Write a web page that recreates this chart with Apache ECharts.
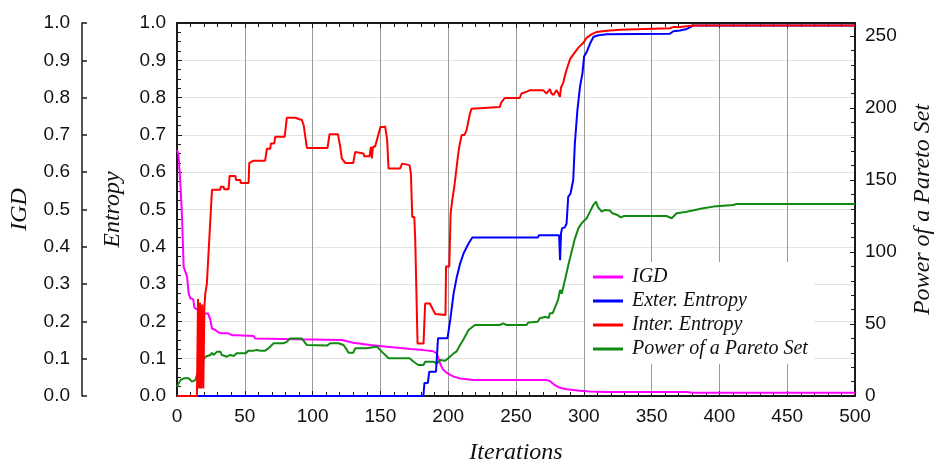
<!DOCTYPE html>
<html>
<head>
<meta charset="utf-8">
<script src="https://cdn.jsdelivr.net/npm/echarts@6/dist/echarts.min.js"></script>
<style>html,body{margin:0;padding:0;background:#fff}#c{width:937px;height:463px}</style>
</head>
<body>
<div id="c"></div>
<script>
// ---- data ----
const xTicks = [0, 50, 100, 150, 200, 250, 300, 350, 400, 450, 500];
const leftTicks = [0, 0.1, 0.2, 0.3, 0.4, 0.5, 0.6, 0.7, 0.8, 0.9, 1.0];
const rightTicks = [0, 50, 100, 150, 200, 250];

const igdX = [0, 1, 2.5, 3.7, 4.9, 6, 7.4, 8.6, 9.8, 12, 12.8, 14.7, 17.2, 18.4, 23, 24.6, 25.8, 28.3, 30.7, 33.2, 38, 40.5, 44.2, 45.5, 56.5, 57.7, 59, 88.5, 89.7, 121.6, 123, 130, 142.5, 154.8, 167, 172, 181.8, 189, 191.6, 192.9, 194.5, 196, 199, 204, 208.8, 213.8, 218, 272.5, 275, 278.7, 282.3, 287.3, 297, 304.5, 316.8, 375.8, 380, 500];
const igdY = [0.659, 0.65, 0.57, 0.48, 0.346, 0.342, 0.32, 0.275, 0.262, 0.259, 0.2375, 0.232, 0.232, 0.221, 0.221, 0.204, 0.181, 0.177, 0.17, 0.168, 0.168, 0.163, 0.163, 0.161, 0.161, 0.154, 0.152, 0.152, 0.15, 0.15, 0.146, 0.143, 0.137, 0.132, 0.128, 0.126, 0.123, 0.12, 0.114, 0.10, 0.083, 0.072, 0.062, 0.052, 0.047, 0.045, 0.043, 0.043, 0.04, 0.029, 0.022, 0.018, 0.014, 0.012, 0.011, 0.011, 0.009, 0.009];

const exterX = [0, 181.7, 182.5, 185, 186, 191, 192.5, 199.5, 201.5, 204, 206.4, 208.8, 211.3, 215, 217.8, 266.2, 266.8, 281.8, 282.5, 283.2, 284, 286, 287.3, 288.5, 290.2, 292.2, 293.4, 295.3, 297.2, 299, 300.2, 302.2, 304.7, 307.2, 310.9, 317, 363.5, 366, 371, 376, 380.7, 500];
const exterY = [0, 0, 0.035, 0.035, 0.065, 0.065, 0.155, 0.155, 0.204, 0.275, 0.32, 0.355, 0.382, 0.409, 0.425, 0.425, 0.431, 0.431, 0.364, 0.436, 0.45, 0.452, 0.4625, 0.534, 0.543, 0.579, 0.677, 0.767, 0.829, 0.865, 0.91, 0.923, 0.9455, 0.963, 0.967, 0.97, 0.971, 0.978, 0.98, 0.984, 0.993, 0.993];

const interX = [0, 14.7, 15.5, 16.3, 17, 17.8, 18.6, 19.4, 20.2, 20.9, 22, 25.8, 31.9, 32.3, 34.4, 34.8, 38, 38.8, 43, 43.5, 46.7, 47, 52.8, 53.3, 56.5, 65, 66.3, 68.8, 69.2, 71.7, 72.5, 79.4, 81, 87.2, 92.1, 93.4, 95.8, 111, 112.5, 118.7, 120.4, 121.5, 122.8, 124, 130, 131.4, 137.6, 138, 142, 143, 143.7, 144.5, 146, 147.4, 150, 152, 153.5, 155, 156, 164.6, 166, 167, 171.5, 172.5, 173.5, 175, 175.7, 177.4, 181.8, 183, 186.5, 189, 190.5, 198, 198.4, 200.8, 201.8, 203, 204.5, 206, 207.4, 208.6, 210, 212, 213.5, 216, 217.2, 218.4, 238, 239.3, 241.8, 252.8, 254, 255.4, 258, 260.4, 270, 272.5, 275, 276, 277.6, 279, 280, 281.2, 282.4, 283.2, 284.9, 286, 287.4, 289.9, 292.3, 296, 299.7, 302.2, 305.9, 309.6, 317, 326.8, 363.5, 366, 371, 380.7, 500];
const interY = [0, 0, 0.26, 0.02, 0.25, 0.02, 0.245, 0.02, 0.24, 0.275, 0.30, 0.553, 0.553, 0.561, 0.561, 0.554, 0.554, 0.59, 0.59, 0.579, 0.579, 0.571, 0.571, 0.625, 0.631, 0.631, 0.663, 0.663, 0.677, 0.677, 0.695, 0.695, 0.746, 0.746, 0.74, 0.726, 0.665, 0.665, 0.702, 0.702, 0.668, 0.637, 0.637, 0.625, 0.625, 0.654, 0.65, 0.643, 0.643, 0.668, 0.637, 0.668, 0.668, 0.686, 0.721, 0.721, 0.723, 0.686, 0.61, 0.61, 0.623, 0.619, 0.619, 0.596, 0.48, 0.48, 0.418, 0.141, 0.141, 0.248, 0.248, 0.23, 0.22, 0.217, 0.347, 0.347, 0.49, 0.525, 0.561, 0.606, 0.65, 0.677, 0.70, 0.70, 0.712, 0.757, 0.77, 0.775, 0.775, 0.788, 0.799, 0.799, 0.811, 0.816, 0.816, 0.82, 0.82, 0.811, 0.823, 0.812, 0.807, 0.802, 0.82, 0.823, 0.802, 0.827, 0.84, 0.858, 0.876, 0.903, 0.916, 0.934, 0.947, 0.961, 0.97, 0.976, 0.979, 0.982, 0.986, 0.989, 0.989, 0.993, 0.993];

const powerX = [0, 2.5, 5, 8.6, 9.8, 11, 12, 13.5, 14.7, 16, 18.4, 20.9, 22, 24.6, 25.8, 27, 29.5, 32, 33, 34.4, 36.9, 39.3, 41.8, 44, 50.4, 52.8, 56.5, 59, 61, 65, 67.5, 71.3, 78.6, 81, 83.5, 92, 93.4, 95.8, 110.6, 113, 119, 120.4, 122.8, 125.3, 126.5, 130, 131.4, 140, 141, 147.4, 148.6, 152.3, 156, 165.8, 167, 171.5, 174.5, 178, 181.8, 183, 189, 191.6, 194, 197.8, 200, 204, 206, 208.8, 211, 215, 219.7, 238, 240.5, 243, 257.8, 259, 266, 267.5, 272, 274, 275, 277, 279, 281, 282.5, 283.7, 286.1, 288.6, 291, 293.5, 296, 298.4, 302.1, 303.3, 304.6, 307, 309, 310.6, 313.2, 315.7, 319.3, 321.1, 324.8, 327.2, 329.7, 361, 364.8, 368.5, 375.8, 388, 395.5, 410.3, 412.7, 500];
const powerY = [6.5, 11, 12.3, 12.3, 13.4, 10, 10, 11, 14.6, 18, 23.8, 27.3, 28.5, 28.5, 30, 28.5, 30.8, 30.8, 28.5, 29.6, 27.3, 28.5, 27.8, 29.6, 29.6, 31.5, 31.5, 32, 31.5, 31.5, 33.1, 36.6, 36.6, 37.7, 40, 40, 38.9, 35.4, 35, 36.6, 36.6, 35.4, 35.4, 32, 30, 30, 33.1, 33.1, 34.3, 34.3, 33.1, 29.6, 26.2, 26.2, 27.3, 26.2, 23.8, 21.5, 21.5, 23.8, 23.8, 22.6, 25, 24.5, 26.2, 29.6, 30.8, 35.4, 38.9, 45.8, 49.3, 49.3, 50.5, 49.3, 49.3, 51, 51.6, 54, 55, 54, 57.4, 57.4, 62, 66.7, 73.6, 71, 80.5, 91, 100.2, 109.5, 116.4, 120, 123.4, 122.4, 128, 132.6, 134.9, 131, 128, 129.2, 128.8, 126.9, 125.7, 124, 125, 125, 123.4, 126.9, 128, 130.3, 131.5, 132.6, 133.3, 133.3];

const seriesNames = ['IGD', 'Exter. Entropy', 'Inter. Entropy', 'Power of a Pareto Set'];
const seriesColors = ['#ff00ff', '#0000ff', '#ff0000', '#138a13'];

const zip = (xs, ys) => xs.map((x, i) => [x, ys[i]]);

const tickFont = 'Liberation Sans, Arial, sans-serif';
const nameFont = 'Liberation Serif, Times New Roman, serif';
const axisColor = '#1a1a1a';

const chart = echarts.init(document.getElementById('c'), null, {renderer: 'canvas'});

const baseX = {
  type: 'value', min: xTicks[0], max: xTicks[xTicks.length - 1], interval: 50,
  axisLine: {show: true, onZero: false, lineStyle: {color: axisColor, width: 2}},
  axisTick: {show: true, inside: true, length: 5, lineStyle: {color: axisColor}},
  minorTick: {show: true, splitNumber: 5, length: 4, lineStyle: {color: axisColor}}
};

const option = {
  animation: false,
  backgroundColor: '#fff',
  grid: {left: 177, right: 82, top: 23, bottom: 67, containLabel: false, outerBoundsMode: 'none'},
  legend: {
    orient: 'vertical', left: 585, top: 262,
    backgroundColor: '#fff', padding: [5, 6, 5, 8],
    itemWidth: 30, itemHeight: 3, itemGap: 4,
    icon: 'rect',
    data: seriesNames,
    textStyle: {fontFamily: nameFont, fontStyle: 'italic', fontSize: 20, color: '#111', lineHeight: 20, padding: [0, 0, 0, 4]}
  },
  xAxis: [
    Object.assign({}, baseX, {
      position: 'bottom',
      name: 'Iterations', nameLocation: 'middle', nameGap: 45,
      nameTextStyle: {fontFamily: nameFont, fontStyle: 'italic', fontSize: 24, color: '#111'},
      axisLabel: {fontFamily: tickFont, fontSize: 19, color: '#111', margin: 11},
      splitLine: {show: true, lineStyle: {color: '#9a9a9a', width: 1}}
    }),
    Object.assign({}, baseX, {
      position: 'top',
      axisLabel: {show: false},
      splitLine: {show: false}
    })
  ],
  yAxis: [
    {
      type: 'value', position: 'left', min: 0, max: 1, interval: 0.1,
      name: 'Entropy', nameLocation: 'middle', nameGap: 52, nameRotate: 90,
      nameTextStyle: {fontFamily: nameFont, fontStyle: 'italic', fontSize: 24, color: '#111'},
      axisLine: {show: true, onZero: false, lineStyle: {color: axisColor, width: 2}},
      axisTick: {show: true, inside: true, length: 5, lineStyle: {color: axisColor}},
      minorTick: {show: true, splitNumber: 4, length: 4, lineStyle: {color: axisColor}},
      axisLabel: {fontFamily: tickFont, fontSize: 19, color: '#111', margin: 11, formatter: v => v.toFixed(1)},
      splitLine: {show: true, lineStyle: {color: '#e2e2e2', width: 1}}
    },
    {
      type: 'value', position: 'right', min: 0, max: 259, interval: 50,
      name: 'Power of a Pareto Set', nameLocation: 'middle', nameGap: 56, nameRotate: 90,
      nameTextStyle: {fontFamily: nameFont, fontStyle: 'italic', fontSize: 24, color: '#111'},
      axisLine: {show: true, onZero: false, lineStyle: {color: axisColor, width: 2}},
      axisTick: {show: true, inside: true, length: 5, lineStyle: {color: axisColor}},
      minorTick: {show: true, splitNumber: 5, length: 4, lineStyle: {color: axisColor}},
      axisLabel: {fontFamily: tickFont, fontSize: 19, color: '#111', margin: 10,
        formatter: v => (rightTicks.indexOf(v) >= 0 ? String(v) : '')},
      splitLine: {show: false}
    },
    {
      type: 'value', position: 'left', offset: 95, min: 0, max: 1, interval: 0.1,
      name: 'IGD', nameLocation: 'middle', nameGap: 50, nameRotate: 90,
      nameTextStyle: {fontFamily: nameFont, fontStyle: 'italic', fontSize: 24, color: '#111'},
      axisLine: {show: true, onZero: false, lineStyle: {color: axisColor, width: 1.5}},
      axisTick: {show: true, inside: true, length: 5, lineStyle: {color: axisColor, width: 1.5}},
      axisLabel: {fontFamily: tickFont, fontSize: 19, color: '#111', margin: 12, formatter: v => v.toFixed(1)},
      splitLine: {show: false}
    }
  ],
  series: [
    {name: seriesNames[0], type: 'line', xAxisIndex: 0, yAxisIndex: 2, data: zip(igdX, igdY),
     showSymbol: false, symbol: 'none', lineStyle: {width: 2, color: seriesColors[0]}, itemStyle: {color: seriesColors[0]}, z: 3},
    {name: seriesNames[1], type: 'line', xAxisIndex: 0, yAxisIndex: 0, data: zip(exterX, exterY),
     showSymbol: false, symbol: 'none', lineStyle: {width: 2, color: seriesColors[1]}, itemStyle: {color: seriesColors[1]}, z: 4},
    {name: seriesNames[2], type: 'line', xAxisIndex: 0, yAxisIndex: 0, data: zip(interX, interY),
     showSymbol: false, symbol: 'none', lineStyle: {width: 2, color: seriesColors[2]}, itemStyle: {color: seriesColors[2]}, z: 5},
    {name: seriesNames[3], type: 'line', xAxisIndex: 0, yAxisIndex: 1, data: zip(powerX, powerY),
     showSymbol: false, symbol: 'none', lineStyle: {width: 2, color: seriesColors[3]}, itemStyle: {color: seriesColors[3]}, z: 3}
  ]
};
chart.setOption(option);
</script>
</body>
</html>
